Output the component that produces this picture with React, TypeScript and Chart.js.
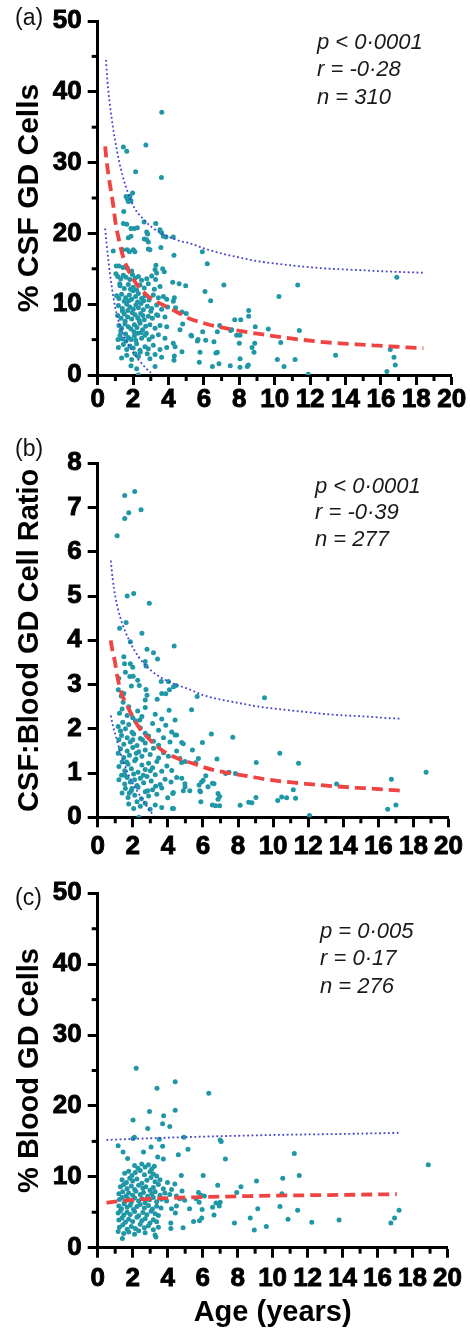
import React, { useEffect, useRef } from "react";
import { Chart, registerables } from "chart.js";

Chart.register(...registerables);

type Pt = [number, number];

const FONT = '"Liberation Sans", Arial, Helvetica, sans-serif';
const TEAL = "#1f97a6";
const RED = "#ee4444";
const BLUE = "#4242d0";

// ---------- Panel (a): % CSF GD cells vs age ----------
const pointsAUpper: Pt[] = [
  [3.62, 37.1], [2.72, 32.5], [1.45, 32.2], [1.64, 31.6], [2.14, 28.7], [3.6, 27.9],
  [1.97, 25.7], [1.82, 25.2], [1.67, 24.9], [1.6, 25.2], [1.73, 24.5], [1.88, 24.6],
  [1.47, 23.1], [2.62, 21.6], [3.28, 21.4], [1.45, 21.4], [1.64, 21.3], [1.88, 20.7],
  [2.07, 20.7], [2.24, 20.8], [2.77, 20.2], [2.82, 19.9], [3.52, 20.5], [3.61, 20.1],
  [3.71, 19.6], [3.86, 19.5], [4.27, 19.5], [1.73, 19.4], [1.88, 19.6], [2.63, 19.2],
  [2.77, 19.1], [2.86, 18.8], [1.41, 17.7], [0.88, 17.5], [1.67, 17.7], [1.79, 17.4],
  [2.01, 17.7], [2.1, 17.4], [2.86, 17.8], [2.95, 17.7], [3.57, 18.0], [4.31, 16.9],
  [1.05, 15.4], [1.2, 15.4], [1.43, 15.2], [1.67, 15.1], [1.92, 14.7], [3.29, 15.5],
  [3.24, 14.9], [3.33, 14.4], [3.67, 15.0], [3.76, 14.6],
];
const pointsACluster: Pt[] = [
  [1.03, 14.3], [1.13, 13.9], [1.3, 13.6], [1.45, 14.1], [1.6, 13.8], [1.82, 13.5], [1.96, 14.2],
  [2.11, 13.7], [2.3, 13.9], [2.48, 13.4], [2.77, 13.6], [3.05, 14.0], [3.27, 13.5],
  [1.26, 12.6], [1.5, 12.2], [1.73, 12.8], [2.01, 12.4], [2.2, 12.0], [2.39, 12.7], [2.63, 12.3],
  [2.86, 12.9], [3.2, 12.1], [3.52, 12.5], [4.24, 13.1], [4.6, 12.9], [4.97, 12.6],
  [1.07, 11.2], [1.2, 10.8], [1.35, 11.4], [1.58, 10.9], [1.79, 11.3], [1.92, 10.7], [2.14, 11.1],
  [2.3, 11.5], [2.48, 10.8], [2.67, 11.2], [2.9, 10.6], [3.14, 11.3], [3.43, 10.9], [3.71, 11.1],
  [3.9, 10.7], [4.33, 10.9], [4.27, 10.4],
  [1.17, 9.8], [1.39, 9.4], [1.64, 10.0], [1.82, 9.6], [2.01, 9.3], [2.16, 9.9], [2.3, 9.5],
  [2.45, 10.1], [2.58, 9.2], [2.8, 9.7], [3.05, 9.4], [3.33, 9.9], [3.61, 9.3], [3.95, 9.6],
  [4.4, 9.5], [4.76, 8.9], [5.0, 8.7],
  [1.13, 8.4], [1.32, 8.0], [1.5, 8.6], [1.69, 8.2], [1.92, 7.9], [2.11, 8.5], [2.26, 8.1],
  [2.43, 8.7], [2.63, 7.8], [2.86, 8.3], [3.09, 8.0], [3.33, 8.5], [3.8, 8.2],
  [1.2, 7.0], [1.35, 6.6], [1.54, 7.2], [1.73, 6.8], [1.88, 6.5], [2.07, 7.1], [2.22, 6.7],
  [2.39, 7.3], [2.54, 6.4], [2.71, 6.9], [2.95, 7.1], [3.24, 6.6], [3.52, 7.0], [3.9, 6.8],
  [4.8, 7.2], [4.65, 6.4],
  [1.26, 5.6], [1.39, 5.1], [1.58, 5.8], [1.73, 5.3], [1.88, 5.0], [2.07, 5.5], [2.26, 5.9],
  [2.48, 5.2], [2.67, 5.6], [2.9, 5.0], [3.09, 5.4], [3.43, 5.7], [3.8, 5.2], [4.27, 4.5],
  [5.27, 5.6], [4.37, 4.0],
  [1.17, 3.9], [1.45, 4.3], [1.64, 3.6], [1.82, 4.1], [2.01, 3.8], [2.2, 4.4], [2.39, 3.5],
  [2.67, 4.0], [2.86, 3.7], [3.14, 4.2], [3.52, 3.6], [3.9, 3.9],
  [1.35, 2.4], [1.64, 2.8], [1.92, 2.2], [2.11, 3.0], [2.3, 2.6], [2.95, 2.3], [3.24, 2.9],
  [3.61, 2.5], [4.33, 2.7], [4.76, 3.3], [4.31, 2.1],
  [1.88, 1.3], [2.2, 0.9], [3.24, 1.2], [2.3, 0.0],
  [1.4, 9.0], [1.55, 7.6], [1.75, 10.5], [1.95, 8.8], [2.05, 6.1], [2.25, 10.3], [2.35, 7.7],
  [2.55, 8.4], [1.6, 4.8], [1.85, 12.1], [2.15, 4.9], [2.45, 6.0], [1.3, 6.2], [1.5, 10.4],
  [2.6, 10.5], [2.0, 11.9], [1.7, 9.1], [2.75, 5.9], [3.0, 9.0], [3.4, 8.4], [1.15, 5.0],
  [1.25, 12.9], [2.4, 3.2], [2.8, 3.0],
];
const pointsATail: Pt[] = [
  [5.91, 17.4], [6.19, 15.7], [7.13, 12.7], [6.06, 11.8], [6.38, 10.5], [10.24, 11.1],
  [11.3, 12.7], [16.9, 13.8], [7.74, 7.8], [8.08, 7.8], [8.53, 9.1], [8.53, 8.3], [6.89, 7.0],
  [6.76, 6.1], [5.93, 6.1], [7.57, 6.4], [7.51, 6.3], [7.85, 5.6], [8.04, 5.6], [8.9, 6.8],
  [9.64, 6.5], [5.31, 5.5], [5.67, 5.0], [5.63, 4.8], [6.1, 4.9], [6.57, 4.7], [8.0, 4.5],
  [8.87, 4.5], [8.83, 3.2], [8.72, 3.9], [10.34, 4.6], [11.39, 6.3], [5.78, 3.2], [6.68, 3.1],
  [6.76, 3.2], [5.74, 1.8], [6.48, 1.2], [6.85, 1.6], [7.49, 1.3], [8.04, 2.3], [8.04, 1.1],
  [8.45, 1.2], [8.51, 1.4], [10.15, 2.2], [10.53, 1.2], [11.15, 2.2], [13.44, 2.8], [11.9, 0.1],
  [16.34, 0.5], [16.53, 3.6], [16.74, 2.5], [16.81, 1.4],
];
const fitA: Pt[] = [
  [0.42, 32.3], [0.5, 30.3], [0.6, 28.4], [0.75, 26.0], [0.9, 23.6], [1.0, 21.6], [1.2, 19.1],
  [1.4, 17.0], [1.64, 15.3], [1.92, 13.9], [2.3, 12.5], [2.86, 11.1], [3.6, 10.0], [4.4, 9.0],
  [5.2, 7.95], [5.97, 7.35], [6.72, 6.85], [7.66, 6.4], [8.6, 6.0], [9.54, 5.65], [10.48, 5.3],
  [11.62, 4.95], [12.75, 4.65], [13.69, 4.47], [14.63, 4.33], [15.57, 4.19], [16.51, 4.05],
  [17.46, 3.9], [18.4, 3.8],
];
const upperA: Pt[] = [
  [0.47, 44.5], [0.55, 41.5], [0.7, 38.0], [0.85, 35.2], [0.98, 33.2], [1.2, 30.3], [1.4, 28.2],
  [1.73, 25.6], [2.1, 23.5], [2.67, 21.8], [3.1, 20.8], [3.61, 20.0], [4.55, 19.0], [5.21, 18.6],
  [6.1, 17.8], [7.1, 17.1], [8.0, 16.6], [8.98, 16.1], [10.86, 15.5], [12.75, 15.07],
  [14.63, 14.83], [16.51, 14.6], [18.4, 14.45],
];
const lowerA: Pt[] = [
  [0.42, 20.7], [0.5, 18.6], [0.6, 16.3], [0.69, 14.4], [0.8, 12.4], [0.98, 9.65], [1.15, 7.9],
  [1.35, 6.4], [1.6, 4.9], [1.92, 3.5], [2.2, 2.5], [2.48, 1.65], [2.75, 0.9], [3.01, 0.3],
];
const statsA = ["p < 0·0001", "r = -0·28", "n = 310"];

// ---------- Panel (b): CSF:Blood GD cell ratio vs age ----------
const pointsBUpper: Pt[] = [
  [2.11, 7.36], [1.54, 7.27], [1.77, 6.88], [1.54, 6.75], [2.47, 6.95], [1.11, 6.36],
  [1.68, 5.0], [2.05, 5.06], [2.94, 4.84], [1.62, 4.4], [1.25, 4.27], [1.86, 3.97],
  [2.52, 4.16], [4.36, 3.87], [2.81, 3.8], [3.18, 3.72], [3.41, 3.58], [1.49, 3.63],
  [1.53, 3.47], [1.58, 3.28], [1.86, 3.47], [2.0, 3.39], [2.71, 3.52], [2.75, 3.42],
  [1.2, 3.14], [1.17, 2.88], [1.83, 3.18], [2.02, 3.19], [2.28, 3.1], [1.92, 2.97],
  [2.37, 2.98], [3.62, 3.07], [4.03, 3.07], [4.46, 2.98], [1.34, 2.74], [1.49, 2.8],
  [2.75, 2.89], [2.81, 2.76], [2.71, 2.65], [3.39, 2.67], [3.65, 2.8], [3.88, 2.79],
  [4.09, 2.88], [5.35, 2.43],
];
const pointsBCluster: Pt[] = [
  [1.24, 2.35], [1.39, 2.45], [1.68, 2.3], [1.77, 2.5], [2.0, 2.25], [2.28, 2.4], [2.52, 2.28],
  [2.71, 2.48], [3.28, 2.33], [3.65, 2.22], [4.07, 2.42], [4.41, 2.2],
  [1.17, 2.05], [1.3, 1.95], [1.43, 2.15], [1.58, 2.0], [1.77, 2.1], [1.96, 1.92], [2.15, 2.18],
  [2.43, 2.02], [2.71, 1.9], [3.13, 2.12], [3.47, 1.97], [3.88, 2.08], [4.22, 1.93],
  [1.21, 1.75], [1.36, 1.85], [1.49, 1.65], [1.68, 1.8], [1.86, 1.7], [2.05, 1.88], [2.24, 1.62],
  [2.43, 1.78], [2.71, 1.68], [2.9, 1.84], [3.18, 1.72], [3.47, 1.63], [3.75, 1.8], [4.12, 1.7],
  [4.41, 1.86], [4.88, 1.66],
  [1.17, 1.45], [1.3, 1.55], [1.49, 1.35], [1.68, 1.5], [1.81, 1.4], [2.0, 1.58], [2.18, 1.32],
  [2.34, 1.48], [2.52, 1.38], [2.71, 1.52], [2.99, 1.42], [3.18, 1.56], [3.47, 1.34], [3.75, 1.46],
  [4.03, 1.38], [4.5, 1.5],
  [1.21, 1.15], [1.39, 1.25], [1.54, 1.05], [1.73, 1.2], [1.92, 1.1], [2.11, 1.28], [2.3, 1.02],
  [2.52, 1.18], [2.71, 1.08], [2.9, 1.22], [3.13, 1.12], [3.37, 1.26], [3.65, 1.04], [3.94, 1.16],
  [4.22, 1.06], [4.78, 1.24],
  [1.21, 0.85], [1.36, 0.95], [1.54, 0.75], [1.68, 0.9], [1.86, 0.8], [2.05, 0.98], [2.24, 0.72],
  [2.43, 0.88], [2.62, 0.78], [2.81, 0.92], [3.05, 0.82], [3.28, 0.96], [3.56, 0.74], [3.84, 0.86],
  [4.18, 0.8], [4.5, 0.9], [4.97, 0.76],
  [1.39, 0.55], [1.58, 0.65], [1.73, 0.45], [1.92, 0.6], [2.11, 0.5], [2.3, 0.68], [2.49, 0.42],
  [2.71, 0.58], [2.9, 0.48], [3.13, 0.62], [3.37, 0.52], [3.65, 0.66], [3.99, 0.44], [4.31, 0.56],
  [4.88, 0.6],
  [1.77, 0.3], [2.05, 0.2], [2.24, 0.35], [2.43, 0.25], [2.71, 0.32], [2.99, 0.18], [3.28, 0.28],
  [3.65, 0.22], [4.26, 0.2], [2.35, 0.0],
  [1.45, 2.6], [1.65, 1.25], [1.95, 0.65], [2.2, 1.45], [2.6, 0.95], [2.4, 2.2], [1.8, 0.55],
  [3.0, 1.05], [2.1, 0.85], [2.55, 1.75], [1.55, 0.95], [3.3, 0.7], [2.85, 0.6], [2.0, 1.75],
];
const pointsBTail: Pt[] = [
  [5.67, 2.73], [9.51, 2.7], [5.4, 1.52], [6.48, 1.88], [5.97, 1.69], [7.7, 1.81], [5.74, 1.33],
  [5.59, 1.23], [6.8, 1.32], [10.38, 1.45], [9.04, 1.24], [11.45, 1.22], [18.72, 1.02],
  [16.74, 0.86], [7.29, 0.99], [7.48, 1.02], [7.85, 0.99], [6.16, 0.94], [6.01, 0.84],
  [5.92, 0.8], [5.78, 0.73], [6.54, 0.77], [6.63, 0.76], [6.29, 0.69], [5.82, 0.6], [5.86, 0.58],
  [6.86, 0.54], [6.95, 0.47], [6.86, 0.41], [5.88, 0.35], [6.54, 0.28], [6.72, 0.26], [6.95, 0.26],
  [8.12, 0.27], [8.61, 0.34], [8.79, 0.33], [9.02, 0.45], [10.26, 0.38], [10.49, 0.46],
  [10.77, 0.44], [11.15, 0.62], [11.28, 0.43], [13.62, 0.75], [12.07, 0.04], [16.53, 0.18],
  [17.0, 0.28], [4.79, 1.69], [4.5, 1.86], [4.32, 2.95], [4.69, 1.33], [4.98, 1.26], [4.28, 0.54],
  [4.32, 0.2], [4.98, 0.69], [4.79, 0.88], [5.25, 0.6],
];
const fitB: Pt[] = [
  [0.74, 4.0], [0.85, 3.75], [0.98, 3.52], [1.11, 3.2], [1.36, 2.8], [1.77, 2.45], [2.24, 2.1],
  [2.9, 1.78], [3.65, 1.52], [4.5, 1.34], [5.4, 1.22], [6.57, 1.07], [7.51, 1.0], [8.55, 0.93],
  [9.58, 0.86], [10.53, 0.81], [11.56, 0.77], [12.6, 0.73], [13.54, 0.7], [14.67, 0.67],
  [15.6, 0.65], [16.55, 0.62], [17.4, 0.6],
];
const upperB: Pt[] = [
  [0.75, 5.8], [0.85, 5.4], [1.0, 5.0], [1.3, 4.5], [1.77, 4.02], [2.34, 3.62], [3.09, 3.3],
  [4.03, 3.07], [5.3, 2.88], [6.01, 2.76], [7.14, 2.65], [8.08, 2.58], [9.02, 2.51], [9.96, 2.46],
  [10.9, 2.42], [11.85, 2.38], [12.79, 2.34], [13.73, 2.31], [14.67, 2.29], [15.6, 2.27],
  [16.55, 2.24], [17.3, 2.23],
];
const lowerB: Pt[] = [
  [0.75, 2.3], [0.85, 2.1], [1.02, 1.85], [1.3, 1.45], [1.77, 0.95], [2.3, 0.56], [2.8, 0.25],
  [3.2, 0.03],
];
const statsB = ["p < 0·0001", "r = -0·39", "n = 277"];

// ---------- Panel (c): % Blood GD cells vs age ----------
const pointsCUpper: Pt[] = [
  [2.2, 25.3], [4.43, 23.4], [3.39, 22.5], [6.35, 21.8], [2.02, 18.0], [2.96, 19.2], [4.43, 19.4],
  [3.77, 18.6], [4.12, 17.1], [2.86, 16.8], [3.71, 17.5], [2.02, 15.4], [2.1, 15.6], [3.52, 15.3],
  [4.93, 15.6], [7.0, 15.2], [7.06, 15.0], [1.17, 14.4], [1.45, 13.5], [2.62, 13.5], [3.05, 14.2],
  [3.71, 14.3], [3.75, 12.5], [4.61, 13.1], [5.16, 13.9], [7.3, 12.5], [11.24, 13.3], [18.9, 11.7],
  [1.71, 12.6], [3.43, 12.8],
];
const pointsCCluster: Pt[] = [
  [2.11, 11.6], [2.3, 11.2], [2.52, 11.8], [2.71, 11.4], [2.9, 11.7], [3.09, 11.1], [3.24, 11.5],
  [1.54, 10.5], [1.77, 10.8], [1.96, 10.2], [2.15, 10.6], [2.43, 10.9], [2.67, 10.3], [2.99, 10.7],
  [3.18, 10.4], [3.37, 10.1],
  [1.39, 9.6], [1.64, 9.2], [1.83, 9.8], [2.0, 9.4], [2.24, 9.7], [2.52, 9.1], [2.81, 9.5],
  [3.05, 9.9], [3.28, 9.3], [3.56, 9.6], [3.99, 9.2], [4.41, 9.0],
  [1.3, 8.6], [1.49, 8.9], [1.68, 8.3], [1.92, 8.7], [2.11, 8.2], [2.34, 8.8], [2.58, 8.4],
  [2.75, 8.6], [2.99, 8.1], [3.18, 8.5], [3.47, 8.9], [3.75, 8.3], [4.22, 8.2], [4.82, 8.0],
  [1.21, 7.6], [1.43, 7.9], [1.62, 7.3], [1.77, 7.7], [2.0, 7.4], [2.18, 7.95], [2.43, 7.5],
  [2.62, 7.8], [2.86, 7.25], [3.09, 7.6], [3.28, 7.9], [3.56, 7.4], [3.84, 7.7], [4.12, 7.5],
  [4.5, 7.3],
  [1.24, 6.8], [1.39, 7.1], [1.54, 6.5], [1.73, 6.9], [1.92, 6.4], [2.11, 7.0], [2.34, 6.6],
  [2.52, 6.95], [2.71, 6.35], [2.96, 6.75], [3.18, 7.1], [3.37, 6.5], [3.65, 6.85], [3.94, 6.6],
  [4.69, 6.9], [4.97, 6.7],
  [1.21, 5.9], [1.36, 5.5], [1.51, 6.2], [1.68, 5.7], [1.86, 6.0], [2.05, 5.4], [2.24, 5.8],
  [2.43, 6.1], [2.67, 5.6], [2.9, 5.95], [3.13, 5.45], [3.37, 5.85], [3.62, 5.6], [4.22, 5.5],
  [4.5, 5.9],
  [1.17, 4.9], [1.3, 5.2], [1.49, 4.6], [1.68, 5.0], [1.86, 4.7], [2.11, 5.1], [2.34, 4.5],
  [2.58, 4.95], [2.81, 4.65], [3.05, 5.15], [3.28, 4.8], [3.47, 4.55], [4.44, 4.9],
  [1.21, 3.9], [1.39, 4.2], [1.58, 3.6], [1.77, 4.0], [2.0, 3.7], [2.24, 4.3], [2.52, 3.8],
  [2.71, 4.1], [2.99, 3.5], [3.18, 3.95], [3.37, 3.65], [4.18, 3.5],
  [1.24, 2.9], [1.43, 3.2], [1.68, 2.6], [1.92, 3.0], [2.15, 2.7], [2.43, 3.3], [2.67, 2.8],
  [2.9, 3.1], [3.18, 2.55], [3.47, 2.9], [4.18, 2.7], [4.88, 2.8],
  [1.17, 2.3], [1.49, 2.0], [1.77, 2.2], [2.11, 1.9], [2.34, 2.4], [2.71, 2.1], [3.28, 1.8],
  [1.41, 1.3], [3.33, 1.5],
];
const pointsCTail: Pt[] = [
  [6.03, 10.2], [4.78, 10.2], [10.58, 9.8], [11.52, 10.2], [9.08, 9.4], [8.19, 8.6], [6.86, 8.8],
  [7.95, 7.8], [10.53, 7.6], [5.76, 7.8], [5.91, 7.4], [6.1, 7.3], [5.63, 6.9], [5.8, 6.4],
  [5.97, 5.4], [6.57, 5.7], [6.76, 6.3], [7.0, 6.4], [6.95, 5.9], [5.25, 5.5], [10.42, 5.8],
  [9.15, 5.5], [11.43, 5.3], [8.72, 4.2], [6.65, 4.6], [5.95, 4.2], [5.82, 3.8], [5.48, 3.7],
  [7.82, 3.5], [8.95, 2.5], [9.64, 3.0], [10.88, 4.0], [12.24, 3.6], [13.8, 3.9], [17.23, 5.3],
  [16.97, 4.2], [16.76, 3.5],
];
const fitC: Pt[] = [
  [0.5, 6.35], [1.0, 6.5], [2.0, 6.75], [3.0, 6.9], [4.0, 7.0], [6.0, 7.15], [8.0, 7.25],
  [10.0, 7.35], [12.0, 7.4], [14.0, 7.45], [17.1, 7.55],
];
const upperC: Pt[] = [
  [0.5, 15.2], [2.0, 15.35], [5.0, 15.6], [10.0, 15.9], [14.0, 16.05], [17.3, 16.2],
];
const statsC = ["p = 0·005", "r = 0·17", "n = 276"];

const xMinorTicks = [1, 3, 5, 7, 9, 11, 13, 15, 17, 19];
const yMinorTicks50 = [5, 15, 25, 35, 45];

const decorPlugin = {
  id: "decor",
  afterDraw(chart: any, _args: any, opts: any) {
    const ctx = chart.ctx as CanvasRenderingContext2D;
    const xs = chart.scales.x;
    const ys = chart.scales.y;
    const { left, bottom } = chart.chartArea;
    ctx.save();
    ctx.strokeStyle = "#000";
    ctx.lineWidth = 3;
    ctx.lineCap = "butt";
    (opts.minorX || []).forEach((v: number) => {
      const p = xs.getPixelForValue(v);
      ctx.beginPath();
      ctx.moveTo(p, bottom);
      ctx.lineTo(p, bottom + 6);
      ctx.stroke();
    });
    (opts.minorY || []).forEach((v: number) => {
      const p = ys.getPixelForValue(v);
      ctx.beginPath();
      ctx.moveTo(left, p);
      ctx.lineTo(left - 6, p);
      ctx.stroke();
    });
    ctx.fillStyle = "#111";
    ctx.textAlign = "left";
    ctx.textBaseline = "middle";
    ctx.font = `23px ${FONT}`;
    ctx.fillText(opts.label, 15, opts.labelY);
    ctx.fillStyle = "#1a1a1a";
    ctx.font = `italic 22px ${FONT}`;
    (opts.stats || []).forEach((s: string, i: number) => {
      ctx.fillText(s, opts.statsX, opts.statsY[i]);
    });
    ctx.restore();
  },
};

type PanelCfg = {
  top: number;
  height: number;
  areaTop: number;
  areaBottom: number;
  points: Pt[];
  fit: Pt[];
  ci: Pt[][];
  yMax: number;
  yStep: number;
  yMinor: number[];
  yTitle: string;
  yTitleSize: number;
  xTitle?: string;
  xTickPad: number;
  label: string;
  labelY: number;
  stats: string[];
  statsX: number;
  statsY: number[];
};

const toXY = (pts: Pt[]) => pts.map(([x, y]) => ({ x, y }));

function Panel(cfg: PanelCfg) {
  const ref = useRef<HTMLCanvasElement>(null);
  useEffect(() => {
    if (!ref.current) return;
    const W = 470;
    const areaLeft = 97.7;
    const areaRight = 451.7;
    const xHeight = cfg.height - cfg.areaBottom;
    const tickFont = { family: FONT, size: 26, weight: "bold", lineHeight: 1 };
    const lineDs = (pts: Pt[], color: string, width: number, dash: number[]) => ({
      type: "line",
      data: toXY(pts),
      borderColor: color,
      borderWidth: width,
      borderDash: dash,
      pointRadius: 0,
      fill: false,
      showLine: true,
      cubicInterpolationMode: "monotone",
    });
    const axisGrid = {
      display: true,
      drawOnChartArea: false,
      drawTicks: true,
      tickLength: 10,
      tickWidth: 3,
      tickColor: "#000",
    };
    const chart = new Chart(ref.current, {
      type: "scatter",
      data: {
        datasets: [
          lineDs(cfg.fit, RED, 3.8, [11, 6]),
          ...cfg.ci.map((c) => lineDs(c, BLUE, 1.8, [1.8, 2.6])),
          {
            type: "scatter",
            data: toXY(cfg.points),
            backgroundColor: TEAL,
            pointBackgroundColor: TEAL,
            pointBorderWidth: 0,
            pointRadius: 2.5,
          },
        ],
      },
      options: {
        animation: false,
        responsive: false,
        devicePixelRatio: 1,
        layout: { padding: { top: cfg.areaTop, right: W - areaRight, bottom: 0, left: 0 } },
        plugins: {
          legend: { display: false },
          tooltip: { enabled: false },
          decor: {
            minorX: xMinorTicks,
            minorY: cfg.yMinor,
            label: cfg.label,
            labelY: cfg.labelY,
            stats: cfg.stats,
            statsX: cfg.statsX,
            statsY: cfg.statsY,
          },
        },
        scales: {
          x: {
            type: "linear",
            min: 0,
            max: 20,
            afterFit: (s: any) => {
              s.height = xHeight;
            },
            ticks: {
              stepSize: 2,
              autoSkip: false,
              maxRotation: 0,
              color: "#000",
              font: tickFont,
              padding: cfg.xTickPad,
              textStrokeColor: "#000",
              textStrokeWidth: 0.9,
            },
            grid: axisGrid,
            border: { display: true, color: "#000", width: 3 },
            title: {
              display: !!cfg.xTitle,
              text: cfg.xTitle || "",
              color: "#000",
              font: { family: FONT, size: 29, weight: "bold", lineHeight: 1 },
              padding: { top: 0, bottom: 2.5 },
            },
          },
          y: {
            type: "linear",
            min: 0,
            max: cfg.yMax,
            afterFit: (s: any) => {
              s.width = areaLeft;
            },
            ticks: {
              stepSize: cfg.yStep,
              color: "#000",
              font: tickFont,
              padding: 6,
              textStrokeColor: "#000",
              textStrokeWidth: 0.9,
            },
            grid: axisGrid,
            border: { display: true, color: "#000", width: 3 },
            title: {
              display: true,
              text: cfg.yTitle,
              color: "#000",
              font: { family: FONT, size: cfg.yTitleSize, weight: "bold", lineHeight: 1 },
              padding: { top: 30 - cfg.yTitleSize / 2, bottom: 0 },
            },
          },
        },
      },
      plugins: [decorPlugin],
    } as any);
    return () => chart.destroy();
  }, []);
  return (
    <canvas
      ref={ref}
      width={470}
      height={cfg.height}
      style={{ position: "absolute", left: 0, top: cfg.top, width: 470, height: cfg.height, display: "block" }}
    />
  );
}

export default function App() {
  return (
    <div style={{ position: "absolute", left: 0, top: 0, width: 470, height: 1330, background: "#fff", overflow: "hidden" }}>
      <Panel
        top={0}
        height={420}
        areaTop={21}
        areaBottom={375}
        points={[...pointsAUpper, ...pointsACluster, ...pointsATail]}
        fit={fitA}
        ci={[upperA, lowerA]}
        yMax={50}
        yStep={10}
        yMinor={yMinorTicks50}
        yTitle="% CSF GD Cells"
        yTitleSize={30}
        xTickPad={2}
        label="(a)"
        labelY={19}
        stats={statsA}
        statsX={317}
        statsY={[43, 70, 98]}
      />
      <Panel
        top={420}
        height={440}
        areaTop={43.3}
        areaBottom={397.3}
        points={[...pointsBUpper, ...pointsBCluster, ...pointsBTail]}
        fit={fitB}
        ci={[upperB, lowerB]}
        yMax={8}
        yStep={1}
        yMinor={[]}
        yTitle="CSF:Blood GD Cell Ratio"
        yTitleSize={29}
        xTickPad={7}
        label="(b)"
        labelY={29.5}
        stats={statsB}
        statsX={315}
        statsY={[67, 93, 120]}
      />
      <Panel
        top={860}
        height={470}
        areaTop={33.3}
        areaBottom={387.7}
        points={[...pointsCUpper, ...pointsCCluster, ...pointsCTail]}
        fit={fitC}
        ci={[upperC]}
        yMax={50}
        yStep={10}
        yMinor={yMinorTicks50}
        yTitle="% Blood GD Cells"
        yTitleSize={29}
        xTitle="Age (years)"
        xTickPad={8}
        label="(c)"
        labelY={39}
        stats={statsC}
        statsX={320}
        statsY={[72, 99, 127]}
      />
    </div>
  );
}
